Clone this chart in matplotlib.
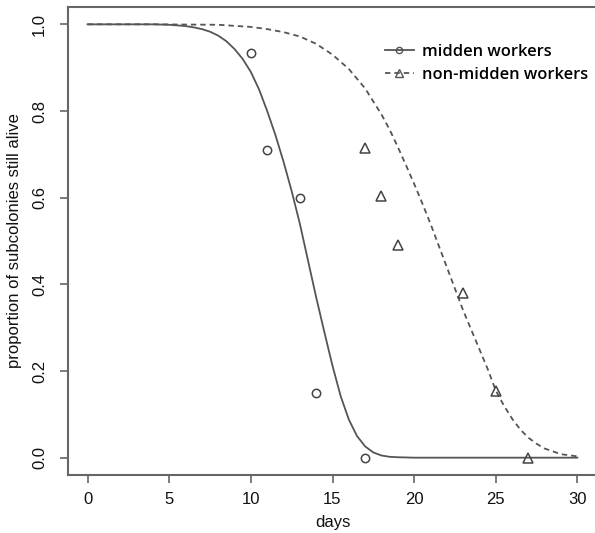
import matplotlib
matplotlib.use("Agg")
from matplotlib import pyplot as plt
from matplotlib.lines import Line2D

# observed points
midden_days = [10, 11, 13, 14, 17]
midden_alive = [0.933, 0.71, 0.60, 0.15, 0.0]
non_midden_days = [17, 18, 19, 23, 25, 27]
non_midden_alive = [0.714, 0.604, 0.49, 0.38, 0.155, 0.0]

# fitted curves
midden_fit_days = [0, 2, 4, 5, 6, 6.5, 7, 7.5, 8, 8.5, 9, 9.5, 10, 10.5, 11, 11.5, 12,
                   12.5, 13, 13.5, 14, 14.5, 15, 15.5, 16, 16.5, 17, 17.5, 18, 18.5,
                   19, 20, 25, 30]
midden_fit_alive = [1.0, 1.0, 1.0, 0.999, 0.996, 0.993, 0.989, 0.983, 0.974, 0.961,
                    0.943, 0.92, 0.89, 0.85, 0.80, 0.745, 0.683, 0.615, 0.54, 0.455,
                    0.37, 0.29, 0.212, 0.142, 0.088, 0.05, 0.026, 0.012, 0.005, 0.002,
                    0.001, 0.0, 0.0, 0.0]
non_midden_fit_days = [0, 4, 8, 10, 11, 12, 13, 14, 15, 16, 17, 18, 18.5, 19, 19.5, 20,
                       20.5, 21, 21.5, 22, 22.5, 23, 23.5, 24, 24.5, 25, 25.5, 26, 26.5,
                       27, 27.5, 28, 29, 30]
non_midden_fit_alive = [1.0, 1.0, 0.999, 0.994, 0.989, 0.982, 0.972, 0.955, 0.93, 0.897,
                        0.852, 0.792, 0.757, 0.717, 0.675, 0.632, 0.587, 0.54, 0.49,
                        0.44, 0.39, 0.34, 0.295, 0.25, 0.205, 0.155, 0.12, 0.09, 0.065,
                        0.046, 0.032, 0.021, 0.008, 0.003]

xticks = [0, 5, 10, 15, 20, 25, 30]
yticks = [0.0, 0.2, 0.4, 0.6, 0.8, 1.0]

line_col = '#555555'
axis_col = '#666666'

fig = plt.figure(figsize=(5.95, 5.33), dpi=100)
ax = fig.add_axes([68/595, 58/533, 529/595, 468/533])

ax.plot(midden_fit_days, midden_fit_alive, color=line_col, lw=1.3)
ax.plot(non_midden_fit_days, non_midden_fit_alive, color=line_col, lw=1.3,
        ls=(0, (3, 2.2)))
ax.plot(midden_days, midden_alive, 'o', mfc='none', mec='#444444', ms=6, mew=1.1)
ax.plot(non_midden_days, non_midden_alive, '^', mfc='none', mec='#444444', ms=7.5, mew=1.1)

ax.set_xlim(-1.2, 31.2)
ax.set_ylim(-0.04, 1.04)
ax.set_xticks(xticks)
ax.set_yticks(yticks)
ax.set_yticklabels(['%.1f' % v for v in yticks], rotation=90, va='center')

for s in ax.spines.values():
    s.set_color(axis_col)
    s.set_linewidth(1.5)
ax.tick_params(direction='out', length=6, width=1.2, color=axis_col,
               labelsize=12, labelcolor='#111111')
ax.tick_params(axis='x', pad=6)
ax.tick_params(axis='y', pad=9)

for lab in ax.get_xticklabels() + ax.get_yticklabels():
    lab.set_family('Liberation Sans')

ax.set_xlabel('days', fontsize=12, family='Liberation Sans', labelpad=6, color='#111111')
ax.set_ylabel('proportion of subcolonies still alive', fontsize=12,
              family='Liberation Sans', labelpad=7, color='#111111')

handles = [Line2D([], [], color=line_col, lw=1.3, marker='o', mfc='none',
                  mec=line_col, ms=4.5),
           Line2D([], [], color=line_col, lw=1.3, ls=(0, (3, 2.2)), marker='^',
                  mfc='none', mec=line_col, ms=5.5)]
ax.legend(handles, ['midden workers', 'non-midden workers'], loc='upper left',
          bbox_to_anchor=(385/595, 1 - 44/533), bbox_transform=fig.transFigure,
          frameon=False, handlelength=1.75, handletextpad=0.5, labelspacing=0.42,
          borderaxespad=0, borderpad=0,
          prop={'family': 'Open Sans', 'weight': 'semibold', 'size': 11.8})

fig.savefig('out.png', dpi=100)
